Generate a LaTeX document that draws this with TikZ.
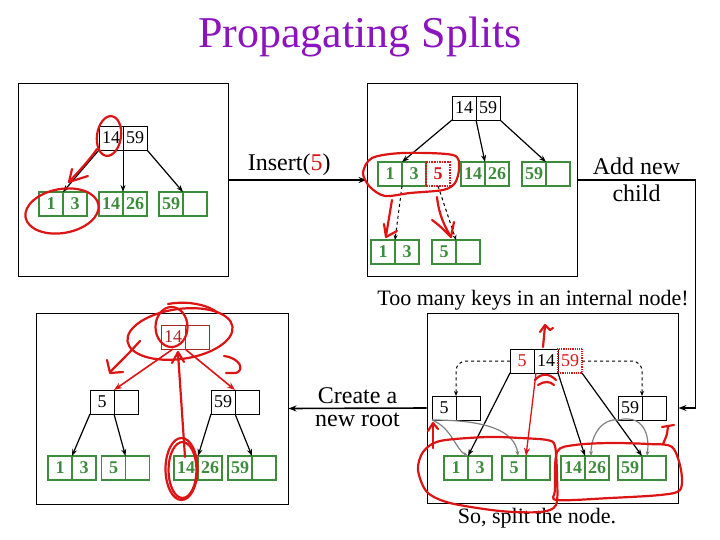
\documentclass[tikz,border=0pt]{standalone}
\usepackage{fontspec}
\setmainfont{Liberation Serif}
\usetikzlibrary{arrows.meta,positioning}
\definecolor{leafgreen}{RGB}{60,140,60}
\definecolor{pen}{RGB}{220,20,20}
\definecolor{titlepurple}{RGB}{140,20,190}
\definecolor{oldred}{RGB}{165,40,40}

\begin{document}
\begin{tikzpicture}[x=1pt, y=-1pt,
    panel/.style={rectangle, draw, line width=1pt, inner sep=0pt},
    keybox/.style={rectangle, draw, line width=0.8pt, minimum width=24pt, minimum height=24pt, inner sep=0pt, outer sep=0pt, font=\fontsize{18}{18}\selectfont},
    leafkey/.style={keybox, draw=leafgreen, text=leafgreen, line width=1.6pt, font=\fontsize{18}{18}\selectfont\bfseries},
    movedkey/.style={draw=pen, text=pen, densely dotted, line width=2pt},
    oldroot/.style={keybox, draw=oldred, text=oldred},
    note/.style={font=\fontsize{24}{28}\selectfont, inner sep=4pt, align=center},
    link/.style={-{Stealth[length=7pt, width=5pt]}, line width=1.2pt},
    hint/.style={-{Stealth[length=5pt, width=4pt]}, dashed, line width=1pt},
    ghost/.style={-{Stealth[length=5pt, width=4pt]}, draw=gray, line width=1.2pt},
    conn/.style={-{Stealth[length=8pt, width=6pt]}, line width=1.6pt},
    ink/.style={draw=pen, line width=2.2pt, line cap=round, line join=round},
    inkarrow/.style={-{Stealth[length=8pt, width=6pt]}, draw=pen, line width=1.6pt}
]
\useasboundingbox (0,0) rectangle (720,540);

% --- TITLE ---
\node[font=\fontsize{44}{44}\selectfont, text=titlepurple] (title) at (360,37) {Propagating Splits};

% --- PANEL 1: before insert ---
\node[panel, minimum width=210pt, minimum height=192pt] (p1) at (123,180) {};
\node[keybox] (p1r1) at (111,138) {14};
\node[keybox, right=0pt of p1r1] (p1r2) {59};
\node[leafkey] (p1a1) at (51,204) {1};
\node[leafkey, right=0pt of p1a1] (p1a2) {3};
\node[leafkey] (p1b1) at (111,204) {14};
\node[leafkey, right=0pt of p1b1] (p1b2) {26};
\node[leafkey] (p1c1) at (171,204) {59};
\node[leafkey, right=0pt of p1c1] (p1c2) {};
\draw[link] (p1r1.south west) -- (p1a1.north east);
\draw[link, line width=0.8pt] (p1r1.south east) -- (p1b1.north east);
\draw[link] (p1r2.south east) -- (p1c1.north east);

% --- PANEL 2: leaf split ---
\node[panel, minimum width=210pt, minimum height=192pt] (p2) at (472,180) {};
\node[keybox] (p2r1) at (464,108) {14};
\node[keybox, right=0pt of p2r1] (p2r2) {59};
\node[leafkey] (p2a1) at (390,174) {1};
\node[leafkey, right=0pt of p2a1] (p2a2) {3};
\node[leafkey, movedkey, right=0pt of p2a2] (p2a3) {5};
\node[leafkey] (p2b1) at (473,174) {14};
\node[leafkey, right=0pt of p2b1] (p2b2) {26};
\node[leafkey] (p2c1) at (534,174) {59};
\node[leafkey, right=0pt of p2c1] (p2c2) {};
\node[leafkey] (p2d1) at (383,252) {1};
\node[leafkey, right=0pt of p2d1] (p2d2) {3};
\node[leafkey] (p2e1) at (444,252) {5};
\node[leafkey, right=0pt of p2e1] (p2e2) {};
\draw[link] (p2r1.south west) -- (p2a1.north east);
\draw[link] (p2r1.south east) -- (p2b1.north east);
\draw[link] (p2r2.south east) -- (p2c1.north east);
\draw[hint] (p2a1.south east) -- (p2d1.north east);
\draw[hint] (p2a3.south) -- (p2e1.north east);

% --- PANEL 3: new root ---
\node[panel, minimum width=252pt, minimum height=191pt] (p3) at (162,408.5) {};
\node[oldroot] (p3r1) at (173,337) {14};
\node[oldroot, right=0pt of p3r1] (p3r2) {};
\node[keybox] (p3m1) at (102,402) {5};
\node[keybox, right=0pt of p3m1] (p3m2) {};
\node[keybox] (p3n1) at (223,402) {59};
\node[keybox, right=0pt of p3n1] (p3n2) {};
\node[leafkey] (p3a1) at (60,468) {1};
\node[leafkey, right=0pt of p3a1] (p3a2) {3};
\node[leafkey] (p3b1) at (113.5,468) {5};
\node[leafkey, right=0pt of p3b1] (p3b2) {};
\node[leafkey] (p3c1) at (186,468) {14};
\node[leafkey, right=0pt of p3c1] (p3c2) {26};
\node[leafkey] (p3d1) at (240,468) {59};
\node[leafkey, right=0pt of p3d1] (p3d2) {};
\draw[link] (p3m1.south west) -- (p3a1.north east);
\draw[link] (p3m1.south east) -- (p3b1.north east);
\draw[link] (p3n1.south west) -- (p3c1.north east);
\draw[link] (p3n1.south east) -- (p3d1.north east);
\draw[inkarrow] (p3r1.south) -- (p3m1.north east);
\draw[inkarrow] (p3r1.south east) -- (p3n1.north east);

% --- PANEL 4: internal node split ---
\node[panel, minimum width=251pt, minimum height=190pt] (p4) at (552.5,408) {};
\node[keybox, text=pen] (p4r1) at (522,361) {5};
\node[keybox, right=0pt of p4r1] (p4r2) {14};
\node[keybox, movedkey, right=0pt of p4r2] (p4r3) {59};
\node[keybox] (p4m1) at (444,408) {5};
\node[keybox, right=0pt of p4m1] (p4m2) {};
\node[keybox] (p4n1) at (630,408) {59};
\node[keybox, right=0pt of p4n1] (p4n2) {};
\node[leafkey] (p4a1) at (456,468) {1};
\node[leafkey, right=0pt of p4a1] (p4a2) {3};
\node[leafkey] (p4b1) at (514,468) {5};
\node[leafkey, right=0pt of p4b1] (p4b2) {};
\node[leafkey] (p4c1) at (573,468) {14};
\node[leafkey, right=0pt of p4c1] (p4c2) {26};
\node[leafkey] (p4d1) at (630,468) {59};
\node[leafkey, right=0pt of p4d1] (p4d2) {};
\draw[link] (p4r1.south west) -- (p4a1.north east);
\draw[link] (p4r2.south east) -- (p4c1.north east);
\draw[link] (p4r3.south east) -- (p4d1.north east);
\draw[hint, rounded corners=10pt] (p4r1.west) -| (p4m1.north east);
\draw[hint, rounded corners=10pt] (p4r3.east) -| (p4n1.north east);
\draw[ghost] (p4m1.south west) .. controls +(20,8) and +(-12,-6) .. (p4a1.north east);
\draw[ghost] (p4m1.south west) .. controls +(55,0) and +(-3,-25) .. ([xshift=4pt]p4b1.north);
\draw[ghost] (p4n1.south west) .. controls +(-15,-2) and +(0,-22) .. ([xshift=6pt]p4c1.north east);
\draw[ghost] (p4n1.south west) .. controls +(25,-6) and +(3,-22) .. ([xshift=5pt]p4d1.north east);
\draw[inkarrow, line width=1.3pt] ([xshift=2pt]p4r2.south west) -- (p4b1.north east);

\node[font=\fontsize{22}{24}\selectfont] (warn) at (533,300) {Too many keys in an internal node!};
\node[font=\fontsize{22}{24}\selectfont] (split) at (537,518) {So, split the node.};

% --- CONNECTORS ---
\draw[conn] (p1.east) -- node[note, above, pos=0.44] {Insert(\textcolor{pen}{5})} (p2.west);
\draw[conn] (p2.east) -- node[note, above] {Add new} node[note, below] {child} ++(118,0) |- (p4.east);
\draw[conn] (p4.west) -- node[note, above] {Create a} node[note, below] {new root} (p3.east);

% --- RED PEN ---
% panel 1
\draw[ink, rotate around={-8:(109,136)}] (109,136) ellipse [x radius=12pt, y radius=20pt];
\draw[ink] (97,149) .. controls (88,162) and (78,172) .. (69,182);
\draw[ink] (72,169) -- (69,182) -- (88,176);
\draw[ink, rotate around={10:(62,211)}] (62,211) ellipse [x radius=37pt, y radius=22pt];
% panel 2
\draw[ink] plot[smooth cycle] coordinates {(453,155) (459,168) (455,183) (443,190) (410,193) (385,196) (370,187) (363,173) (372,158) (403,153)};
\draw[ink] (392,200) -- (386,236);
\draw[ink] (384,224) -- (386,237) -- (397,231);
\draw[ink] (437,197) .. controls (439,215) and (444,225) .. (451,237);
\draw[ink] (432,220) .. controls (440,226) .. (451,237) -- (454,222);
% panel 3
\draw[ink, rotate around={8:(180,334)}] (180,334) ellipse [x radius=53pt, y radius=25pt];
\draw[ink] (168,304) .. controls (190,300) and (210,306) .. (218,313);
\draw[ink] (171.5,327) ellipse [x radius=16pt, y radius=20pt];
\draw[ink] (140,341) .. controls (130,352) .. (110,372);
\draw[ink] (107,360) -- (110,373) -- (123,372);
\draw[ink] (224,356) .. controls (240,358) and (245,370) .. (236,373) -- (226,373);
\draw[ink] (185,457) -- (178,353);
\draw[ink] (172,363) -- (178,352) -- (184,362);
\draw[ink] (181.5,469) ellipse [x radius=16pt, y radius=31pt];
\draw[ink] (182.5,470) ellipse [x radius=14pt, y radius=28pt];
% panel 4
\draw[ink] (543,347) -- (545,326);
\draw[ink] (540,332) -- (545,325) -- (550,330) -- (553,328);
\draw[ink] (535,380) .. controls (541,373) and (549,373) .. (556,380);
\draw[ink] (538,385) .. controls (544,381) and (550,381) .. (554,385);
\draw[ink] plot[smooth cycle] coordinates {(423,452) (440,441) (487,437) (520,438) (547,440) (555,446) (557,477) (556,505) (540,512) (500,511) (450,503) (427,492) (418,470)};
\draw[ink] plot[smooth cycle] coordinates {(555,490) (557,452) (575,445) (610,443) (648,444) (672,447) (681,470) (680,490) (660,495) (610,498) (557,500)};
\draw[ink] (433,448) -- (433,424);
\draw[ink] (428,431) -- (433,423) -- (438,429);
\draw[ink] (662,427) -- (674,425);
\draw[ink] (668,426) .. controls (667,435) .. (663,444);
\end{tikzpicture}
\end{document}
